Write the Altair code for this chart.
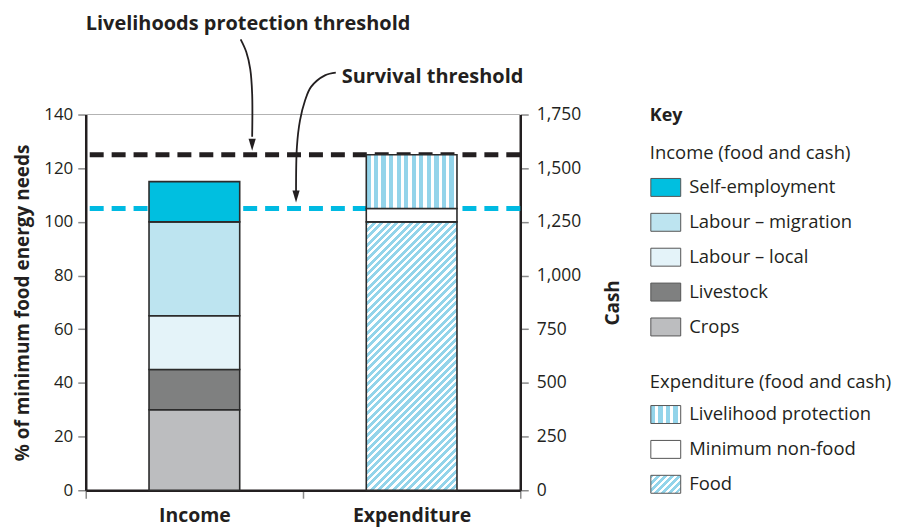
import altair as alt
import pandas as pd

# ---------------- data ----------------
bar_categories = ["Income", "Expenditure"]

income_sources = ["Crops", "Livestock", "Labour – local", "Labour – migration", "Self-employment"]
income_values = [30, 15, 20, 35, 15]
income_colors = ["#bcbdbf", "#7f8080", "#e4f3f9", "#bde4f0", "#00bfe0"]

expenditure_items = ["Food", "Minimum non-food", "Livelihood protection"]
expenditure_values = [100, 5, 20]

survival_threshold = 105
livelihoods_threshold = 125

y_ticks = [0, 20, 40, 60, 80, 100, 120, 140]
cash_ticks = [0, 250, 500, 750, 1000, 1250, 1500, 1750]

annot_labels = ["Livelihoods protection threshold", "Survival threshold"]
annot_x = [0.0, 1.178]
annot_y = [171.6, 151.8]

arrow1_x = [0.713, 0.739, 0.757, 0.766, 0.766]
arrow1_y = [168.0, 163.3, 157.0, 147.7, 131.7]
arrow2_x = [1.151, 1.101, 1.037, 1.009, 0.986, 0.972, 0.968]
arrow2_y = [155.6, 154.6, 150.3, 145.1, 137.7, 128.0, 111.3]
tip_x = [0.766, 0.968]
tip_y = [126.5, 107.2]

legend_labels = ["Key", "Income (food and cash)", "Self-employment", "Labour – migration",
                 "Labour – local", "Livestock", "Crops", "Expenditure (food and cash)",
                 "Livelihood protection", "Minimum non-food", "Food"]
legend_rows = [0, 1.06, 2.06, 3.06, 4.06, 5.06, 6.06, 7.63, 8.57, 9.57, 10.57]
legend_kind = ["head", "group", "item", "item", "item", "item", "item", "group", "item", "item", "item"]

# ---------------- style ----------------
INK = "#231f20"
STRIPE = "#93d4ea"
FONT = "Open Sans"
W, H = 436, 377
BAR_W = 91
Y_MAX = 140

def stripes(n, frac, x2, y2):
    stops = []
    for i in range(n):
        a, b, e = i / n, (i + frac) / n, (i + 1) / n
        stops += [(a, STRIPE), (b, STRIPE), (b, "#ffffff"), (e, "#ffffff")]
    return alt.LinearGradient(
        gradient="linear",
        stops=[alt.GradientStop(offset=round(min(o, 1.0), 5), color=c) for o, c in stops],
        x1=0, y1=0, x2=x2, y2=y2)

def diag(w, h, period):
    c = (w + h) * h / (w * w + h * h)
    n = max(1, round((w + h) / period))
    return stripes(n, 0.55, round(c * w / h, 5), round(c, 5))

food_h = expenditure_values[0] / Y_MAX * H
food_fill = diag(BAR_W, food_h, 7.3)
live_fill = stripes(12, 0.57, 1, 0)
food_swatch = diag(30, 18, 7.3)
live_swatch = stripes(4, 0.57, 1, 0)

# ---------------- tables ----------------
def stack(cat, names, vals):
    rows, acc = [], 0
    for n_, v in zip(names, vals):
        rows.append({"cat": cat, "segment": n_, "start": acc, "end": acc + v})
        acc += v
    return pd.DataFrame(rows)

inc_df = stack("Income", income_sources, income_values)
exp_df = stack("Expenditure", expenditure_items, expenditure_values)
thr_df = pd.DataFrame({"y": [livelihoods_threshold, survival_threshold],
                       "kind": ["Livelihoods", "Survival"]})
top_df = pd.DataFrame({"y": [max(y_ticks)]})
ann_df = pd.DataFrame({"x": annot_x, "y": annot_y, "t": annot_labels})
arr_df = pd.DataFrame({
    "x": arrow1_x + arrow2_x,
    "y": arrow1_y + arrow2_y,
    "a": ["a1"] * len(arrow1_x) + ["a2"] * len(arrow2_x),
    "o": list(range(len(arrow1_x))) + list(range(len(arrow2_x))),
})
tip_df = pd.DataFrame({"x": tip_x, "y": tip_y})
cash_df = pd.DataFrame({"cash": cash_ticks})
leg_df = pd.DataFrame({"label": legend_labels, "row": legend_rows, "kind": legend_kind})

# ---------------- scales / axes ----------------
yscale = alt.Scale(domain=[0, Y_MAX], nice=False, zero=True)
xband = alt.Scale(domain=bar_categories, paddingInner=0, paddingOuter=0)
xq = alt.Scale(domain=[0, 2], nice=False, zero=False)

left_axis = alt.Axis(values=y_ticks, title="% of minimum food energy needs", grid=False,
                     tickSize=8, tickColor="#8a8a8a", tickWidth=1.5,
                     domainColor=INK, domainWidth=2.5,
                     labelFont=FONT, labelFontSize=17, labelColor=INK, labelPadding=5,
                     titleFont=FONT, titleFontSize=19, titleFontWeight="bold", titleColor=INK,
                     titlePadding=11)
right_axis = alt.Axis(values=cash_ticks, format=",.0f", orient="right", title="Cash", grid=False,
                      tickSize=8, tickColor="#8a8a8a", tickWidth=1.5,
                      domainColor=INK, domainWidth=2.5,
                      labelFont=FONT, labelFontSize=17.5, labelColor=INK, labelPadding=8,
                      titleFont=FONT, titleFontSize=19, titleFontWeight="bold", titleColor=INK,
                      titleAngle=270, titlePadding=42)
x_axis = alt.Axis(title=None, tickBand="extent", tickSize=8, tickColor="#8a8a8a", tickWidth=1.5,
                  domainColor=INK, domainWidth=2.5, labelAngle=0,
                  labelFont=FONT, labelFontSize=19.5, labelFontWeight="bold", labelColor=INK,
                  labelPadding=8)

# ---------------- main layers ----------------
top_rule = alt.Chart(top_df).mark_rule(color="#b3b3b3", strokeWidth=1.2).encode(
    y=alt.Y("y:Q", scale=yscale, axis=None))

thr_rules = alt.Chart(thr_df).mark_rule(strokeWidth=5, strokeDash=[14, 8]).encode(
    y=alt.Y("y:Q", scale=yscale, axis=None),
    color=alt.Color("kind:N", scale=alt.Scale(domain=["Livelihoods", "Survival"],
                                              range=[INK, "#00bae2"]), legend=None))

inc_bars = alt.Chart(inc_df).mark_bar(width=BAR_W, stroke="#2b2b2b", strokeWidth=1.6).encode(
    x=alt.X("cat:N", scale=xband, axis=x_axis, sort=bar_categories),
    y=alt.Y("start:Q", scale=yscale, axis=left_axis),
    y2="end:Q",
    fill=alt.Fill("segment:N", scale=alt.Scale(domain=income_sources, range=income_colors),
                  legend=None))

def exp_layer(name, fill):
    return alt.Chart(exp_df).transform_filter(alt.datum.segment == name).mark_bar(
        width=BAR_W, stroke="#2b2b2b", strokeWidth=1.6, fill=fill).encode(
        x=alt.X("cat:N", scale=xband, axis=None),
        y=alt.Y("start:Q", scale=yscale, axis=None),
        y2="end:Q")

food_bar = exp_layer("Food", food_fill)
nonfood_bar = exp_layer("Minimum non-food", "#ffffff")
live_bar = exp_layer("Livelihood protection", live_fill)

arrows = alt.Chart(arr_df).mark_line(color=INK, strokeWidth=1.8, interpolate="catmull-rom").encode(
    x=alt.X("x:Q", scale=xq, axis=None),
    y=alt.Y("y:Q", scale=yscale, axis=None),
    detail="a:N", order="o:Q")

tips = alt.Chart(tip_df).mark_point(shape="M-0.6,-2L0.6,-2L0,0Z", size=144, filled=True,
                                    color=INK, opacity=1, strokeWidth=0).encode(
    x=alt.X("x:Q", scale=xq, axis=None),
    y=alt.Y("y:Q", scale=yscale, axis=None))

ann = alt.Chart(ann_df).mark_text(align="left", baseline="alphabetic", font=FONT, fontSize=20,
                                   fontWeight="bold", color=INK).encode(
    x=alt.X("x:Q", scale=xq, axis=None),
    y=alt.Y("y:Q", scale=yscale, axis=None),
    text="t:N")

right = alt.Chart(cash_df).mark_point(opacity=0).encode(
    y=alt.Y("cash:Q", scale=alt.Scale(domain=[0, 1750], nice=False), axis=right_axis))

main = alt.layer(top_rule, thr_rules, inc_bars, food_bar, nonfood_bar, live_bar,
                 arrows, tips, ann, right).resolve_scale(
    x="independent", y="independent", color="independent", fill="independent").properties(
    width=W, height=H)

# ---------------- legend panel ----------------
LW = 240
lx = alt.Scale(domain=[0, 9.6], nice=False, zero=False)
ly = alt.Scale(domain=[-0.03, 10.741], reverse=True, nice=False, zero=False)
SW_SHAPE = "M-1,-0.6L1,-0.6L1,0.6L-1,0.6Z"

leg_base = alt.Chart(leg_df)

leg_head = leg_base.transform_filter(alt.datum.kind == "head").transform_calculate(
    tx="0.52").mark_text(
    align="left", baseline="middle", font=FONT, fontSize=18, fontWeight="bold", color=INK).encode(
    x=alt.X("tx:Q", scale=lx, axis=None), y=alt.Y("row:Q", scale=ly, axis=None),
    text="label:N")

leg_group = leg_base.transform_filter(alt.datum.kind == "group").transform_calculate(
    tx="0.52").mark_text(
    align="left", baseline="middle", font=FONT, fontSize=18.5, color=INK).encode(
    x=alt.X("tx:Q", scale=lx, axis=None), y=alt.Y("row:Q", scale=ly, axis=None),
    text="label:N")

leg_items = leg_base.transform_filter(alt.datum.kind == "item").transform_calculate(
    tx="2.1").mark_text(
    align="left", baseline="middle", font=FONT, fontSize=18.5, color=INK).encode(
    x=alt.X("tx:Q", scale=lx, axis=None), y=alt.Y("row:Q", scale=ly, axis=None),
    text="label:N")

def swatch(filter_expr, **mark_kw):
    return leg_base.transform_filter(filter_expr).transform_calculate(sx="1.16").mark_point(
        shape=SW_SHAPE, size=900, filled=True, opacity=1, stroke="#555555", strokeWidth=1,
        **mark_kw).encode(
        x=alt.X("sx:Q", scale=lx, axis=None), y=alt.Y("row:Q", scale=ly, axis=None))

inc_sw = leg_base.transform_filter(
    alt.FieldOneOfPredicate(field="label", oneOf=income_sources)).transform_calculate(
    sx="1.16").mark_point(shape=SW_SHAPE, size=900, filled=True, opacity=1,
                          stroke="#555555", strokeWidth=1).encode(
    x=alt.X("sx:Q", scale=lx, axis=None), y=alt.Y("row:Q", scale=ly, axis=None),
    fill=alt.Fill("label:N", scale=alt.Scale(domain=income_sources, range=income_colors),
                  legend=None))
live_sw = swatch(alt.datum.label == "Livelihood protection", fill=live_swatch)
nonfood_sw = swatch(alt.datum.label == "Minimum non-food", fill="#ffffff")
food_sw = swatch(alt.datum.label == "Food", fill=food_swatch)

legend = alt.layer(inc_sw, live_sw, nonfood_sw, food_sw, leg_head, leg_group, leg_items).properties(
    width=LW, height=H)

chart = alt.hconcat(main, legend, spacing=117, bounds="flush").properties(
    padding={"left": 5, "top": 4, "right": 0, "bottom": 3}).configure(
    font=FONT).configure_view(strokeWidth=0)

chart.save("out.html", embed_options={"renderer": "svg", "actions": False})
